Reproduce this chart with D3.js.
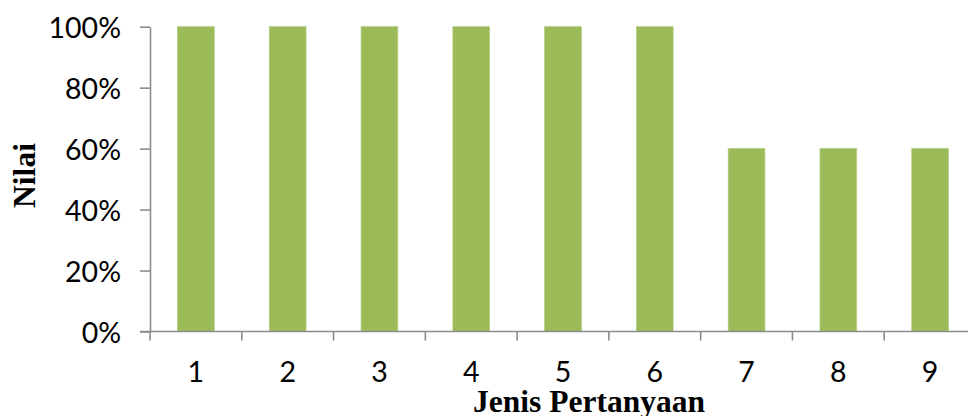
<!DOCTYPE html>
<html>
<head>
<meta charset="utf-8">
<script src="https://cdn.jsdelivr.net/npm/d3@7"></script>
<style>
  html, body { margin: 0; padding: 0; background: #ffffff; }
  svg { display: block; }
</style>
</head>
<body>
<svg id="chart" width="968" height="416"></svg>
<script>
// Question numbers and their scores (fraction of 1)
const categories = ["1", "2", "3", "4", "5", "6", "7", "8", "9"];
const values = [1.0, 1.0, 1.0, 1.0, 1.0, 1.0, 0.6, 0.6, 0.6];
const yTicks = [0, 0.2, 0.4, 0.6, 0.8, 1.0];
const yTickLabels = ["0%", "20%", "40%", "60%", "80%", "100%"];
const xTitle = "Jenis Pertanyaan";
const yTitle = "Nilai";

const svg = d3.select("#chart");
const plot = { left: 150, right: 976, top: 26.7, bottom: 331.5 };
const axisColor = "#8c8c8c";
const barColor = "#9bbb59";
const tickFont = "Lato, 'Open Sans', sans-serif";
const titleFont = "'Liberation Serif', 'Times New Roman', serif";

// Category slots span the full axis; bars take the middle 40% of each slot
const xSlot = d3.scaleBand().domain(categories).range([plot.left, plot.right]).padding(0);
const xBar = d3.scaleBand().domain(categories).range([plot.left, plot.right])
  .paddingInner(0.6).paddingOuter(0.3);
const y = d3.scaleLinear().domain([0, 1]).range([plot.bottom, plot.top]);

// Bars
svg.append("g").selectAll("rect")
  .data(categories)
  .join("rect")
  .attr("x", d => xBar(d))
  .attr("y", (d, i) => y(values[i]))
  .attr("width", xBar.bandwidth())
  .attr("height", (d, i) => y(0) - y(values[i]))
  .attr("fill", barColor)
  .attr("stroke", "#b3cd80")
  .attr("stroke-width", 0.8);

// Y axis
const yAxis = d3.axisLeft(y)
  .tickValues(yTicks)
  .tickFormat((d, i) => yTickLabels[i])
  .tickSizeInner(10)
  .tickSizeOuter(0)
  .tickPadding(19);
const gy = svg.append("g").attr("transform", `translate(${plot.left},0)`).call(yAxis);
gy.select(".domain").attr("stroke", axisColor).attr("stroke-width", 1.6);
gy.selectAll(".tick line").attr("stroke", axisColor).attr("stroke-width", 1.6);
gy.selectAll(".tick text")
  .attr("font-family", tickFont)
  .attr("font-size", 28.5)
  .attr("fill", "#000")
  .attr("dy", "0.37em");

// X axis: labels centred in slots, tick marks at slot boundaries
const xAxis = d3.axisBottom(xSlot).tickSize(0).tickPadding(0);
const gx = svg.append("g").attr("transform", `translate(0,${plot.bottom})`).call(xAxis);
gx.select(".domain").remove();
gx.selectAll(".tick text")
  .attr("font-family", tickFont)
  .attr("font-size", 28.5)
  .attr("fill", "#000")
  .attr("dy", 0)
  .attr("y", 50.5);

svg.append("line")
  .attr("x1", plot.left - 10).attr("x2", plot.right)
  .attr("y1", plot.bottom).attr("y2", plot.bottom)
  .attr("stroke", axisColor).attr("stroke-width", 1.6);

const boundaries = categories.map(d => xSlot(d)).concat([xSlot(categories[categories.length - 1]) + xSlot.bandwidth()]);
svg.append("g").selectAll("line")
  .data(boundaries)
  .join("line")
  .attr("x1", d => d).attr("x2", d => d)
  .attr("y1", plot.bottom).attr("y2", plot.bottom + 9)
  .attr("stroke", axisColor).attr("stroke-width", 1.6);

// Axis titles
svg.append("text")
  .attr("x", 589).attr("y", 412)
  .attr("text-anchor", "middle")
  .attr("font-family", titleFont)
  .attr("font-weight", "bold")
  .attr("font-size", 31.5)
  .attr("fill", "#000")
  .text(xTitle);

svg.append("text")
  .attr("transform", "translate(35,175.5) rotate(-90)")
  .attr("text-anchor", "middle")
  .attr("font-family", titleFont)
  .attr("font-weight", "bold")
  .attr("font-size", 31.5)
  .attr("fill", "#000")
  .text(yTitle);
</script>
</body>
</html>
